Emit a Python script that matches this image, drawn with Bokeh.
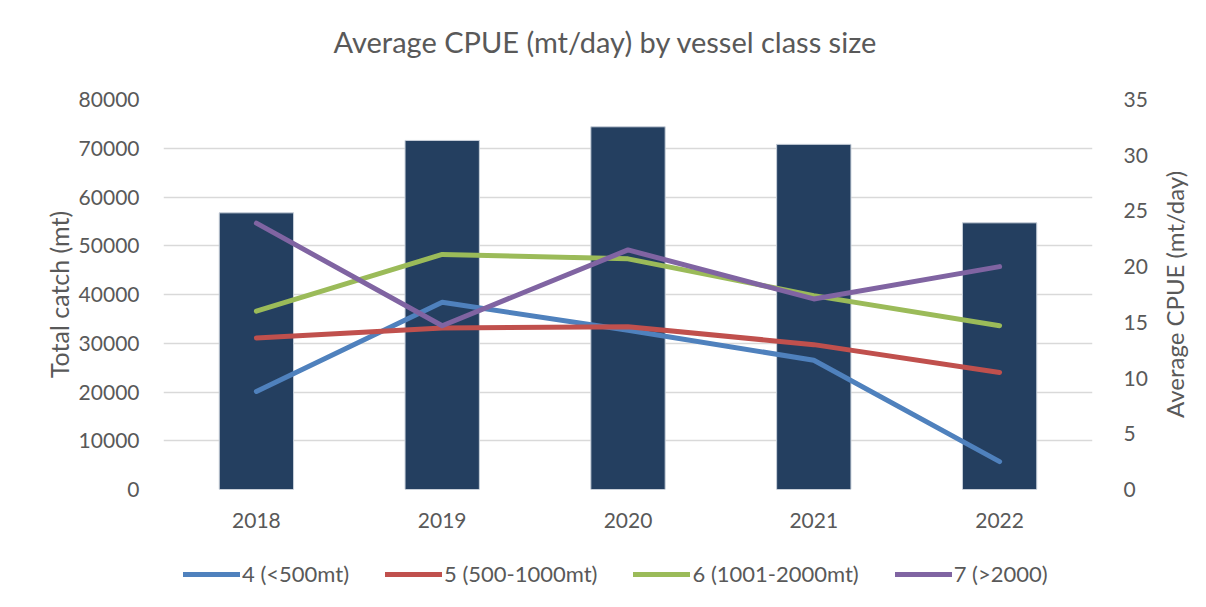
from bokeh.plotting import figure
from bokeh.layouts import column, row
from bokeh.models import Range1d, LinearAxis, FactorRange, FixedTicker, Legend, LegendItem, ColumnDataSource, Title
from bokeh.embed import file_html
from bokeh.resources import INLINE

years = ["2018", "2019", "2020", "2021", "2022"]
total_catch = [56750, 71600, 74400, 70800, 54700]
cpue_4 = [8.8, 16.8, 14.3, 11.6, 2.5]
cpue_5 = [13.6, 14.5, 14.6, 13.0, 10.5]
cpue_6 = [16.0, 21.1, 20.7, 17.4, 14.7]
cpue_7 = [23.9, 14.7, 21.5, 17.1, 20.0]
series_names = ["4 (<500mt)", "5 (500-1000mt)", "6 (1001-2000mt)", "7 (>2000)"]
series_colors = ["#4f81bd", "#c0504d", "#9bbb59", "#8064a2"]
left_ticks = [0, 10000, 20000, 30000, 40000, 50000, 60000, 70000, 80000]
right_ticks = [0, 5, 10, 15, 20, 25, 30, 35]
series = [cpue_4, cpue_5, cpue_6, cpue_7]

FONT = "Lato"
GREY = "#595959"

p = figure(width=1150, height=545, x_range=FactorRange(*years, range_padding=0),
           y_range=Range1d(0, 80000), output_backend="svg", toolbar_location=None,
           min_border_left=163, min_border_right=57, min_border_top=99, min_border_bottom=56)
p.extra_y_ranges = {"cpue": Range1d(0, 35)}

# spacer title between frame and the real title (pushes the real title up)
p.add_layout(Title(text=" ", text_font_size="1px", standoff=37), "above")
p.title.text = "Average CPUE (mt/day) by vessel class size"
p.title.align = "left"
p.title.offset = 170
p.title.text_font = FONT
p.title.text_font_size = "29px"
p.title.text_font_style = "normal"
p.title.text_color = GREY
p.title.standoff = 2

p.outline_line_color = None
src = ColumnDataSource(dict(years=years, total=total_catch))
p.vbar(x="years", top="total", width=0.4, source=src, fill_color="#243f60", line_color="#c8d0da", line_width=1)

for vals, color in zip(series, series_colors):
    p.line(years, vals, y_range_name="cpue", line_color=color, line_width=5, line_cap="round", line_join="round")

ax_l = p.left[0]
ax_x = p.below[0]
ax_l.ticker = FixedTicker(ticks=left_ticks)
ax_r = LinearAxis(y_range_name="cpue", ticker=FixedTicker(ticks=right_ticks))
p.add_layout(ax_r, "right")

for ax in [ax_l, ax_r, ax_x]:
    ax.axis_line_color = None
    ax.major_tick_line_color = None
    ax.minor_tick_line_color = None
    ax.major_label_text_font = FONT
    ax.major_label_text_font_size = "21px"
    ax.major_label_text_color = GREY

ax_l.major_label_standoff = 18
ax_r.major_label_standoff = 25
ax_x.major_label_standoff = 17

# left axis title (outside the tick labels, reads bottom-to-top)
p.add_layout(Title(text="Total catch (mt)", align="center", text_font=FONT, text_font_size="25px",
                   text_font_style="normal", text_color=GREY, standoff=4), "left")

p.xgrid.grid_line_color = None
p.ygrid.grid_line_color = "#d9d9d9"
p.ygrid.grid_line_width = 1.5

# narrow companion figure carrying the right-hand axis title (reads bottom-to-top, centred)
side = figure(width=56, height=545, y_range=Range1d(0, 35), x_axis_type=None, y_axis_type=None,
              output_backend="svg", toolbar_location=None,
              min_border_left=34, min_border_right=0, min_border_top=99, min_border_bottom=56)
side.outline_line_color = None
side.xgrid.grid_line_color = None
side.ygrid.grid_line_color = None
side.add_layout(Title(text="Average CPUE (mt/day)", align="center", text_font=FONT, text_font_size="24px",
                      text_font_style="normal", text_color=GREY, standoff=14), "left")

# legend strip below the chart (series drawn outside its visible range, used only for the key)
lg = figure(width=1150, height=62, x_range=FactorRange(*years), y_range=Range1d(1000, 1001),
            x_axis_type=None, y_axis_type=None, output_backend="svg", toolbar_location=None,
            min_border_left=163, min_border_right=57, min_border_top=0, min_border_bottom=0)
lg.outline_line_color = None
lg.xgrid.grid_line_color = None
lg.ygrid.grid_line_color = None
lg_renderers = []
for vals, color in zip(series, series_colors):
    lg_renderers.append(lg.line(years, vals, line_color=color, line_width=5, line_cap="round"))

legend = Legend(items=[LegendItem(label=n, renderers=[r]) for n, r in zip(series_names, lg_renderers)],
                orientation="horizontal", location=(20, 20))
legend.label_text_font = FONT
legend.label_text_font_size = "22px"
legend.label_text_color = GREY
legend.glyph_width = 57
legend.glyph_height = 22
legend.label_standoff = 2
legend.spacing = 36
legend.padding = 0
legend.margin = 0
legend.border_line_color = None
legend.background_fill_alpha = 0
lg.add_layout(legend, "center")

layout = row(column(p, lg, spacing=0), side, spacing=0)
open("out.html", "w").write(file_html(layout, INLINE))
